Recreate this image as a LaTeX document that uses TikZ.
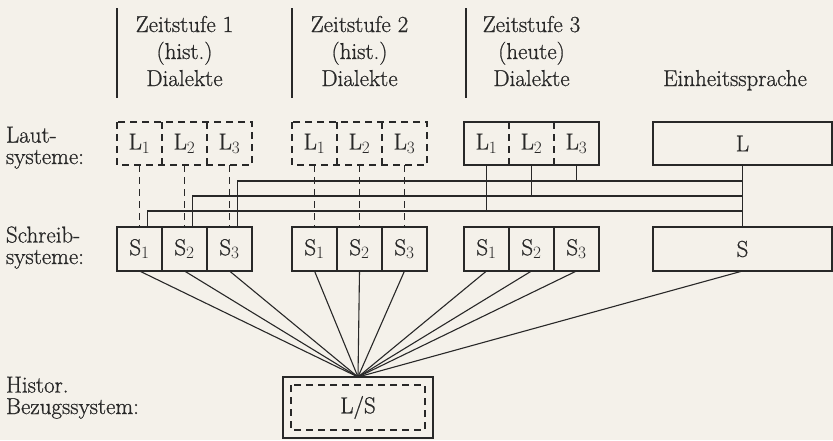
\documentclass[tikz,border=0pt]{standalone}
\usepackage{fontspec}
\setmainfont{Latin Modern Roman}[FakeBold=0.8]
\definecolor{paper}{RGB}{244,241,234}
\definecolor{ink}{RGB}{40,40,40}
\tikzset{
  txt/.style={font=\fontsize{23}{27}\selectfont, text=ink, inner sep=0pt, outer sep=0pt},
  lbl/.style={txt, align=left, font=\fontsize{23}{21.5}\selectfont},
  cell/.style={txt, minimum width=45pt, minimum height=43pt},
  scell/.style={cell, minimum height=44pt, draw=ink, line width=1.1pt},
  dsh/.style={dash pattern=on 7pt off 5pt},
  wire/.style={draw=ink, line width=1.1pt},
}
\begin{document}
\begin{tikzpicture}[x=1pt,y=-1pt]
  \fill[paper] (0,0) rectangle (833,440);
  \useasboundingbox (0,0) rectangle (833,440);

  % header columns
  \draw[wire] (117,8) -- (117,98);
  \draw[wire] (292,8) -- (292,98);
  \draw[wire] (466,8) -- (466,98);
  \node[txt, align=center, anchor=base] (z1) at (184.5,86) {Zeitstufe 1\\(hist.)\\Dialekte};
  \node[txt, align=center, anchor=base] (z2) at (359.5,86) {Zeitstufe 2\\(hist.)\\Dialekte};
  \node[txt, align=center, anchor=base] (z3) at (531.5,86) {Zeitstufe 3\\(heute)\\Dialekte};
  \node[txt, anchor=base] (einh) at (735,86) {Einheitssprache};

  % row labels
  \node[lbl, anchor=base west] (laut) at (6,164) {Laut-\\systeme:};
  \node[lbl, anchor=base west] (schr) at (6,264) {Schreib-\\systeme:};
  \node[lbl, anchor=base west] (hist) at (6,414) {Histor.\\Bezugssystem:};

  % sound and writing systems of the three dialect stages
  \foreach \g/\x in {a/117,b/292,c/464} {
    \foreach \i in {1,2,3} {
      \node[cell]  (\g L\i) at ({\x+45*\i-22.5},143.5) {$\mathrm{L}_{\i}$};
      \node[scell] (\g S\i) at ({\x+45*\i-22.5},249)   {$\mathrm{S}_{\i}$};
    }
  }
  \draw[wire,dsh] (aL1.north west) rectangle (aL3.south east);
  \draw[wire,dsh] (bL1.north west) rectangle (bL3.south east);
  \draw[wire]     (cL1.north west) rectangle (cL3.south east);
  \foreach \g in {a,b,c} {
    \draw[wire,dsh] (\g L1.north east) -- (\g L1.south east);
    \draw[wire,dsh] (\g L2.north east) -- (\g L2.south east);
  }

  % standard language
  \node[cell, minimum width=179pt, draw=ink, line width=1.1pt] (L) at (742.5,143.5) {L};
  \node[scell, minimum width=179pt] (S) at (742.5,249) {S};

  % historical reference system
  \node[txt, draw=ink, line width=1.1pt, minimum width=150pt, minimum height=61pt] (LS) at (358,407.5) {L/S};
  \draw[wire,dsh] ([shift={(8pt,-8pt)}]LS.north west) rectangle ([shift={(-8pt,8pt)}]LS.south east);

  % L -> S within the historical stages
  \foreach \g in {a,b} \foreach \i in {1,2,3}
    \draw[wire,dsh] (\g L\i.south) -- (\g S\i.north);

  % bus lines to the standard language
  \coordinate (h1) at (742.5,181);
  \coordinate (h2) at (742.5,196);
  \coordinate (h3) at (742.5,211);
  \draw[wire] (L.south) -- (S.north);
  \draw[wire] ([xshift=8pt]aS3.north) |- (h1);
  \draw[wire] ([xshift=8pt]aS2.north) |- (h2);
  \draw[wire] ([xshift=8pt]aS1.north) |- (h3);
  \draw[wire] (cL3.south) -- (cL3.south |- h1);
  \draw[wire] (cL2.south) -- (cL2.south |- h2);
  \draw[wire] (cL1.south) -- (cL1.south |- h3);

  % fan into the reference system
  \foreach \n in {aS1,aS2,aS3,bS1,bS2,bS3,cS1,cS2,cS3,S}
    \draw[wire] (\n.south) -- (LS.north);
\end{tikzpicture}
\end{document}
